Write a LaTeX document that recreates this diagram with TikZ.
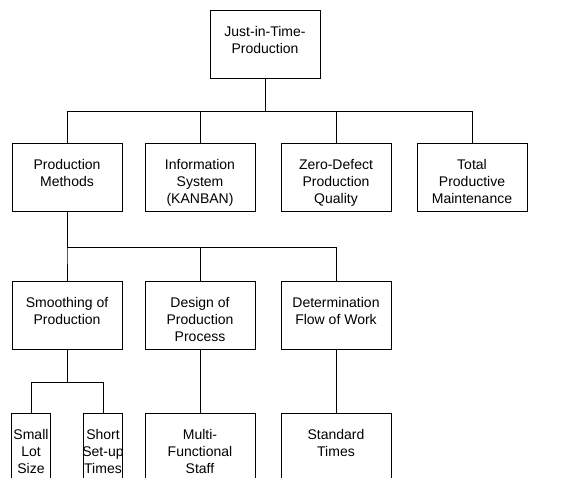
\documentclass[tikz,border=0pt]{standalone}
\usepackage{fontspec}
\setmainfont{Liberation Sans}
\begin{document}
\begin{tikzpicture}[x=1pt,y=-1pt,line join=miter,line width=0.9pt,
  box/.style={draw,anchor=north,minimum width=110pt,minimum height=68pt,inner sep=0pt},
  thinbox/.style={box,minimum width=39pt},
  lbl/.style={anchor=north,yshift=-16pt,align=center,inner sep=0pt,font=\fontsize{14}{17}\selectfont}]
\useasboundingbox (0,0) rectangle (588,478);
\clip (0,0) rectangle (588,478);
% top
\node[box,label={[lbl]north:{Just-in-Time-\\Production}}] (jit) at (265,10) {};
% second row
\node[box,label={[lbl]north:{Production\\Methods}}] (pm) at (67,143) {};
\node[box,label={[lbl]north:{Information\\System\\(KANBAN)}}] (is) at (200,143) {};
\node[box,label={[lbl]north:{Zero-Defect\\Production\\Quality}}] (zd) at (336,143) {};
\node[box,label={[lbl]north:{Total\\Productive\\Maintenance}}] (tpm) at (472,143) {};
% third row
\node[box,label={[lbl]north:{Smoothing of\\Production}}] (sp) at (67,281) {};
\node[box,label={[lbl]north:{Design of\\Production\\Process}}] (dp) at (200,281) {};
\node[box,label={[lbl]north:{Determination\\Flow of Work}}] (df) at (336,281) {};
% bottom row
\node[thinbox,label={[lbl]north:{Small\\Lot\\Size}}] (sl) at (31,413) {};
\node[thinbox,label={[lbl]north:{Short\\Set-up\\Times}}] (st) at (103,413) {};
\node[box,label={[lbl]north:{Multi-\\Functional\\Staff}}] (mf) at (200,413) {};
\node[box,label={[lbl]north:{Standard\\Times}}] (stt) at (336,413) {};
% connectors
\foreach \c in {pm,is,zd,tpm} \draw (jit.south) -- ++(0,33) -| (\c.north);
\foreach \c in {sp,dp,df} \draw (pm.south) -- ++(0,36) -| (\c.north);
\foreach \c in {sl,st} \draw (sp.south) -- ++(0,33) -| (\c.north);
\draw (dp.south) -- (mf.north);
\draw (df.south) -- (stt.north);
\end{tikzpicture}
\end{document}
